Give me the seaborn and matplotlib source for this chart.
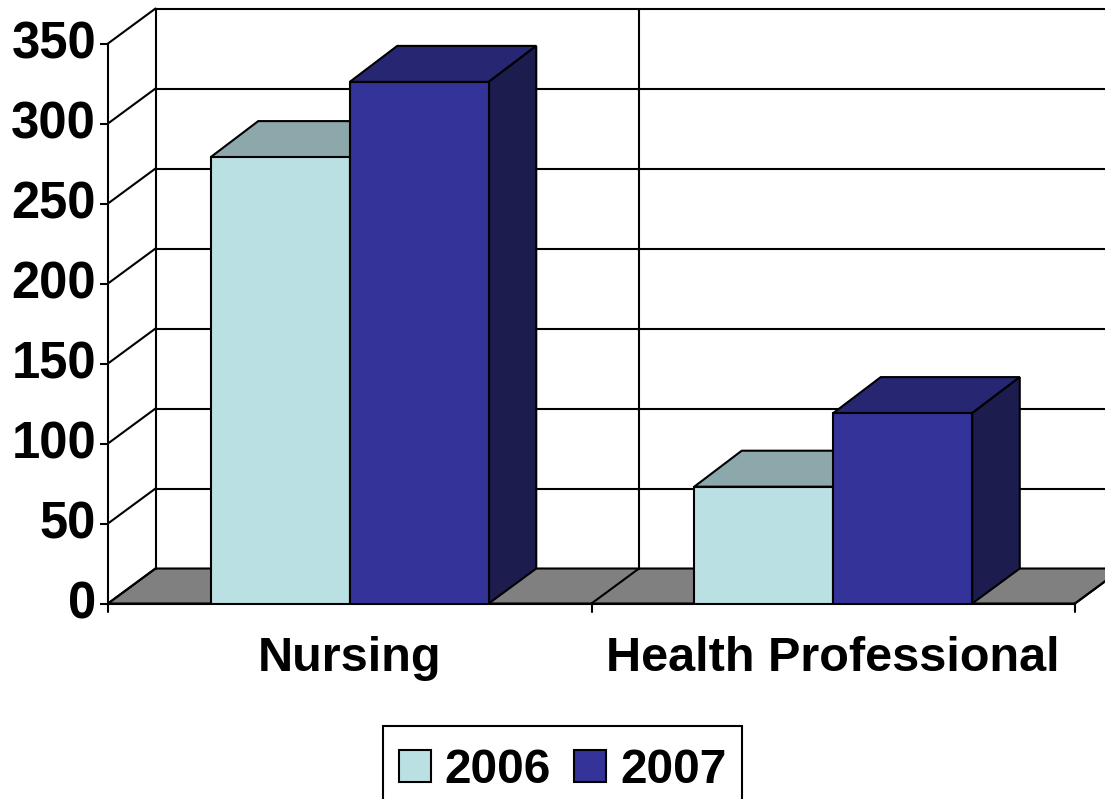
import matplotlib
matplotlib.use("Agg")
import matplotlib.pyplot as plt
from matplotlib.patches import Polygon
from matplotlib.transforms import ScaledTranslation
import seaborn as sns
import pandas as pd

categories = ["Nursing", "Health Professional"]
years = ["2006", "2007"]
values_2006 = [279, 73]
values_2007 = [326, 119]
y_ticks = [0, 50, 100, 150, 200, 250, 300, 350]

colors = {"2006": "#BBE0E3", "2007": "#333399"}
top_colors = {"2006": "#8CA8AA", "2007": "#262673"}
side_colors = {"2006": "#7E9799", "2007": "#1C1C4E"}

W, H = 1105, 799
LW = 1.5

df = pd.DataFrame({
    "category": categories * 2,
    "year": [years[0]] * 2 + [years[1]] * 2,
    "value": values_2006 + values_2007,
})

sns.set_style("white", {"text.color": "black", "xtick.color": "black", "ytick.color": "black"})
plt.rcParams["font.family"] = ["Liberation Sans", "DejaVu Sans"]
plt.rcParams["font.weight"] = "bold"

fig = plt.figure(figsize=(W / 100, H / 100), dpi=100)
ax = fig.add_axes([108 / W, 1 - 603.5 / H, (1075 - 108) / W, 560 / H])

sns.barplot(data=df, x="category", y="value", hue="year", order=categories,
            hue_order=years, palette=colors, width=0.575, gap=0, dodge=True,
            edgecolor="black", linewidth=LW, saturation=1, ax=ax, zorder=5)

ax.set_xlim(-0.5, 1.5)
ax.set_ylim(0, 350)

# depth of the fake 3d box, in data units
dx = 47.5 / (967 / 2)
dy = 35 / (560 / 350)
bar_dy = 36 / (560 / 350)

line = dict(color="black", lw=LW, clip_on=False)

# floor, walls and grid
floor = Polygon([(-0.5, 0), (1.5, 0), (1.5 + dx, dy), (-0.5 + dx, dy)],
                facecolor="#808080", edgecolor="black", lw=LW,
                clip_on=False, zorder=1)
ax.add_patch(floor)
for t in y_ticks[1:]:
    ax.plot([-0.5 + dx, 1.5 + dx], [t + dy, t + dy], zorder=2, **line)
for t in y_ticks:
    ax.plot([-0.5, -0.5 + dx], [t, t + dy], zorder=2, **line)
ax.plot([-0.5 + dx, -0.5 + dx], [dy, 350 + dy], zorder=2, **line)
ax.plot([0.5 + dx, 0.5 + dx], [dy, 350 + dy], zorder=2, **line)
ax.plot([0.5, 0.5 + dx], [0, dy], zorder=2, **line)
ax.plot([1.5, 1.5 + dx], [0, dy], zorder=2, **line)

# top and side faces taken from the drawn bars
for i, year in enumerate(years):
    for bar in ax.containers[i]:
        x0, w, h = bar.get_x(), bar.get_width(), bar.get_height()
        x1 = x0 + w
        ax.add_patch(Polygon([(x0, h), (x1, h), (x1 + dx, h + bar_dy), (x0 + dx, h + bar_dy)],
                             facecolor=top_colors[year], edgecolor="black", lw=LW,
                             clip_on=False, zorder=3 + i * 2))
        ax.add_patch(Polygon([(x1, 0), (x1, h), (x1 + dx, h + bar_dy), (x1 + dx, dy)],
                             facecolor=side_colors[year], edgecolor="black", lw=LW,
                             clip_on=False, zorder=3 + i * 2))
        bar.set_zorder(4 + i * 2)

sns.despine(ax=ax, top=True, right=True, left=False, bottom=False)
for s in ["left", "bottom"]:
    ax.spines[s].set_linewidth(LW)
    ax.spines[s].set_color("black")

ax.set_yticks(y_ticks)
ax.set_yticklabels([str(t) for t in y_ticks], fontsize=36.5, fontweight="bold")
ax.tick_params(axis="y", left=True, length=5.8, width=LW, pad=2.8, color="black")
ax.set_xticks([0, 1])
ax.set_xticklabels(categories, fontsize=35, fontweight="bold")
ax.tick_params(axis="x", bottom=False, pad=20)
for t in [-0.5, 0.5, 1.5]:
    ax.plot([t, t], [0, -5], **line)
ax.set_xlabel("")
ax.set_ylabel("")

# the y labels sit a little above their ticks
nudge = ScaledTranslation(0, 4 / 100, fig.dpi_scale_trans)
for lab in ax.get_yticklabels():
    lab.set_transform(lab.get_transform() + nudge)

handles, labels = ax.get_legend_handles_labels()
# tiny blank title pushes the entries down inside the box
leg = ax.legend(handles, labels, ncol=2, loc="center", bbox_to_anchor=(562.5 / W, 1 - 767.5 / H),
                bbox_transform=fig.transFigure, fontsize=34.5, frameon=True, fancybox=False,
                edgecolor="black", framealpha=1, handlelength=0.67, handleheight=0.67,
                handletextpad=0.29, columnspacing=0.48, borderpad=0.33, borderaxespad=0,
                title=" ", title_fontsize=1, labelspacing=0.1)
leg.get_frame().set_linewidth(LW)
for t in leg.get_texts():
    t.set_fontweight("bold")

fig.savefig("out.png", dpi=100)
